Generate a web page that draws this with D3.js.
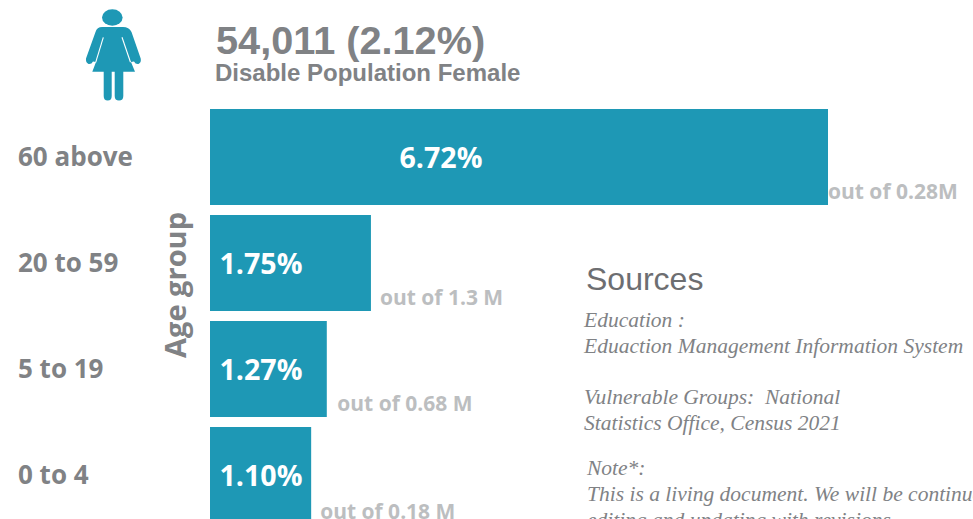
<!DOCTYPE html>
<html>
<head>
<meta charset="utf-8">
<script src="https://cdn.jsdelivr.net/npm/d3@7"></script>
<style>
  html, body { margin: 0; padding: 0; background: #fff; overflow: hidden; }
  svg { display: block; }
  text { white-space: pre; }
</style>
</head>
<body>
<svg id="chart" width="973" height="519"></svg>
<script>
const ageGroups = ['60 above', '20 to 59', '5 to 19', '0 to 4'];
const disabledPct = [6.72, 1.75, 1.27, 1.10];
const outOfLabels = ['out of 0.28M', 'out of 1.3 M', 'out of 0.68 M', 'out of 0.18 M'];
const sourceLines = [
  'Education :',
  'Eduaction Management Information System',
  'Vulnerable Groups:  National',
  'Statistics Office, Census 2021'
];
const noteLines = [
  'Note*:',
  'This is a living document. We will be continuously',
  'editing and updating with revisions.'
];

const TEAL = '#1e98b5';
const GREY = '#808285';
const LIGHT = '#bcbec0';
const UI_FONT = '"Open Sans", "Noto Sans", sans-serif';
const HEAD_FONT = '"Liberation Sans", Arial, sans-serif';
const NOTE_FONT = '"Liberation Serif", serif';

const svg = d3.select('#chart');

const x = d3.scaleLinear([0, 6.72], [210, 828]);
const y = d3.scaleBand(ageGroups, [109, 523]).paddingInner(10 / 106);

// female icon
const icon = svg.append('g').attr('fill', TEAL);
icon.append('ellipse')
  .attr('cx', 112.3).attr('cy', 17.5).attr('rx', 10.3).attr('ry', 8.2);
icon.append('path')
  .attr('d', 'M102 27 H123 Q129 27 131.5 32 L140.7 58.5 Q141.5 62.5 138.5 64 Q135.5 64.5 134 61.5 L131 62 L135 71.7 H123.3 V96 Q123.3 100.5 119 100.5 Q114.7 100.5 114.7 96 V71.7 H111.7 V96 Q111.7 100.5 107.7 100.5 Q103.7 100.5 103.7 96 V71.7 H92.3 L96 62 L93 61.5 Q91.5 64.5 88.5 64 Q85.5 62.5 86 58.5 L95.5 32 Q97 27 102 27 Z');
icon.selectAll('line')
  .data([[103.3, 37.3, 95.7, 62.3], [122, 37.3, 130.5, 62.3]])
  .join('line')
    .attr('x1', d => d[0]).attr('y1', d => d[1])
    .attr('x2', d => d[2]).attr('y2', d => d[3])
    .attr('stroke', '#fff').attr('stroke-width', 1.1);

// title
svg.append('text')
  .attr('x', 216).attr('y', 54)
  .attr('font-family', HEAD_FONT).attr('font-weight', 700).attr('font-size', 39.7)
  .attr('fill', GREY)
  .text('54,011 (2.12%)');
svg.append('text')
  .attr('x', 215).attr('y', 81)
  .attr('font-family', HEAD_FONT).attr('font-weight', 700).attr('font-size', 24)
  .attr('fill', GREY)
  .text('Disable Population Female');

// category labels
const yAxis = svg.append('g')
  .attr('transform', 'translate(18,1)')
  .call(d3.axisLeft(y).tickSize(0).tickPadding(0));
yAxis.select('.domain').remove();
yAxis.selectAll('text')
  .attr('text-anchor', 'start')
  .attr('x', 0)
  .attr('dy', '0.32em')
  .attr('font-family', UI_FONT).attr('font-weight', 700).attr('font-size', 26)
  .attr('fill', GREY);

svg.append('text')
  .attr('transform', 'translate(186,285) rotate(-90)')
  .attr('text-anchor', 'middle')
  .attr('font-family', UI_FONT).attr('font-weight', 700).attr('font-size', 29)
  .attr('fill', GREY)
  .text('Age group');

// bars
svg.append('g').selectAll('rect')
  .data(disabledPct)
  .join('rect')
    .attr('x', x(0))
    .attr('y', (d, i) => y(ageGroups[i]))
    .attr('width', d => x(d) - x(0))
    .attr('height', y.bandwidth())
    .attr('fill', TEAL);

// value labels, first bar has it centred further in
svg.append('g').selectAll('text')
  .data(disabledPct)
  .join('text')
    .attr('x', (d, i) => i === 0 ? 441 : 219.5)
    .attr('y', (d, i) => y(ageGroups[i]) + y.bandwidth() / 2 + 1)
    .attr('dy', '0.36em')
    .attr('text-anchor', (d, i) => i === 0 ? 'middle' : 'start')
    .attr('font-family', UI_FONT).attr('font-weight', 700).attr('font-size', 28.6)
    .attr('fill', '#fff')
    .text(d => d.toFixed(2) + '%');

// out of labels sit beside the bar bottom
svg.append('g').selectAll('text')
  .data(outOfLabels)
  .join('text')
    .attr('x', (d, i) => x(disabledPct[i]) + (i === 0 ? 0 : i === 2 ? 10.5 : 9))
    .attr('y', (d, i) => y(ageGroups[i]) + y.bandwidth() - (i === 3 ? 4 : 6.5))
    .attr('font-family', UI_FONT).attr('font-weight', 700).attr('font-size', 21)
    .attr('fill', LIGHT)
    .text(d => d);

// sources block
svg.append('text')
  .attr('x', 586).attr('y', 290)
  .attr('font-family', HEAD_FONT).attr('font-size', 32)
  .attr('fill', '#6d6e71')
  .text('Sources');

const sourceY = [327, 353, 404, 430];
svg.append('g').selectAll('text')
  .data(sourceLines)
  .join('text')
    .attr('x', 584)
    .attr('y', (d, i) => sourceY[i])
    .attr('font-family', NOTE_FONT).attr('font-style', 'italic').attr('font-size', 21.5)
    .attr('fill', GREY)
    .text(d => d);

const noteY = [475, 501, 527];
svg.append('g').selectAll('text')
  .data(noteLines)
  .join('text')
    .attr('x', 587)
    .attr('y', (d, i) => noteY[i])
    .attr('font-family', NOTE_FONT).attr('font-style', 'italic').attr('font-size', 21.5)
    .attr('fill', GREY)
    .text(d => d);
</script>
</body>
</html>
